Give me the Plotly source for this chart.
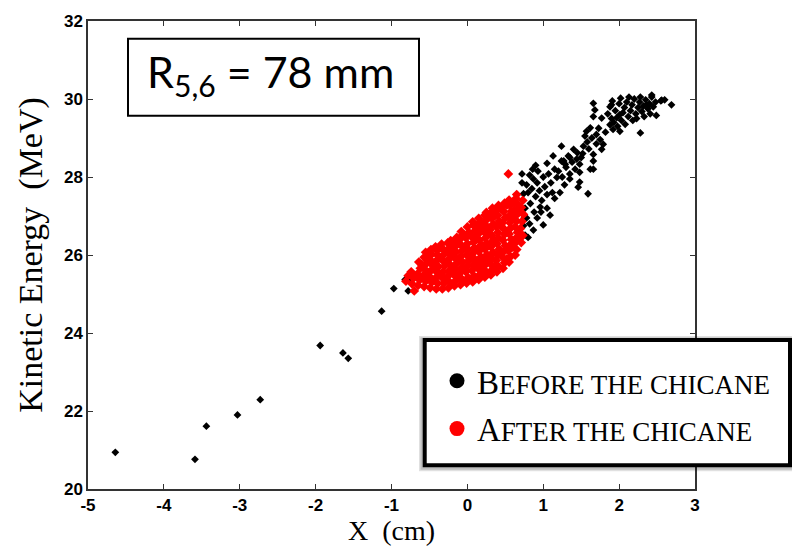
import plotly.graph_objects as go

# ---------------- data ----------------
before_pts = [
    (-4.64, 20.94), (-3.59, 20.76), (-3.44, 21.61), (-3.03, 21.90), (-2.73, 22.29),
    (-1.94, 23.68), (-1.64, 23.49), (-1.57, 23.35), (-1.13, 24.56),
    (-0.97, 25.14), (-0.82, 25.37), (-0.76, 25.37), (-0.78, 25.08),
    (0.72, 28.08), (0.87, 27.95), (1.07, 28.08), (1.18, 27.99), (1.35, 28.08), (1.46, 27.74),
    (1.48, 28.12), (1.62, 28.20), (1.24, 28.41), (1.35, 28.50), (1.13, 28.54), (1.09, 27.02),
    (1.00, 26.77), (0.87, 26.64), (0.76, 26.51), (0.96, 27.23), (0.83, 27.32), (0.74, 27.57),
    (0.78, 27.80), (0.80, 27.60), (0.85, 27.70), (0.90, 27.50), (0.92, 27.85), (0.95, 27.65),
    (0.98, 27.40), (1.02, 27.75), (1.05, 27.55), (1.10, 27.85), (1.12, 27.60), (1.15, 28.20),
    (1.20, 28.15), (1.25, 28.00), (1.28, 27.80), (1.00, 28.00), (0.93, 28.15), (0.82, 28.05),
    (0.76, 27.20), (0.78, 26.95), (0.82, 26.80), (0.88, 27.10), (0.92, 26.95), (0.74, 26.75),
    (0.80, 26.45), (1.05, 27.20), (0.97, 27.10), (1.15, 27.45), (1.22, 27.60), (1.30, 28.25),
    (1.42, 28.20), (0.72, 27.85), (0.90, 28.30), (1.05, 28.35), (0.86, 28.20), (0.75, 26.95),
    (1.66, 29.89), (1.68, 29.72), (1.66, 29.55), (1.77, 29.51), (1.62, 29.26), (1.57, 29.17),
    (1.70, 29.09), (1.64, 29.00), (1.75, 28.96), (1.79, 28.84), (1.53, 28.79), (1.40, 28.71),
    (1.33, 28.54), (1.27, 28.41), (1.44, 28.46), (1.48, 28.33), (1.66, 28.58), (1.66, 28.41),
    (1.66, 28.20), (1.77, 28.71), (1.88, 29.34), (1.92, 29.22), (2.01, 29.17), (2.28, 29.13),
    (1.90, 29.85), (1.24, 28.79), (1.29, 28.33), (1.35, 27.95), (1.59, 27.57), (1.48, 27.87),
    (1.52, 28.60), (1.58, 28.90), (1.45, 28.62), (1.38, 28.38), (1.60, 28.72), (1.70, 28.85),
    (1.55, 29.05), (1.50, 28.50), (1.73, 29.25), (1.82, 29.15),
    (1.85, 29.62), (1.88, 29.80), (1.91, 29.95), (1.95, 29.70), (1.97, 29.52), (2.00, 29.88),
    (2.02, 30.02), (2.05, 29.65), (2.07, 29.78), (2.10, 29.92), (2.12, 29.55), (2.15, 29.70),
    (2.17, 29.85), (2.20, 30.00), (2.22, 29.62), (2.25, 29.78), (2.27, 29.92), (2.30, 29.68),
    (2.32, 29.82), (2.35, 29.98), (2.38, 29.75), (2.40, 29.88), (2.43, 30.05), (2.45, 29.80),
    (2.48, 29.92), (1.93, 29.40), (2.03, 29.45), (2.18, 29.45), (2.08, 29.35), (1.98, 29.30),
    (2.13, 30.05), (2.28, 30.05), (2.33, 29.55), (2.23, 29.50), (1.90, 29.50), (2.55, 29.95),
    (2.60, 29.98), (2.41, 29.62), (2.36, 29.85), (2.01, 29.60), (2.69, 29.85), (2.56, 29.97),
    (2.43, 30.10), (2.49, 29.58),
]

after_pts = [
    (-0.81, 25.33), (-0.78, 25.47),
    (-0.73, 25.26), (-0.71, 25.41), (-0.74, 25.57),
    (-0.65, 25.22), (-0.63, 25.36), (-0.66, 25.51), (-0.62, 25.66), (-0.64, 25.82),
    (-0.57, 25.19), (-0.55, 25.33), (-0.58, 25.48), (-0.56, 25.63), (-0.54, 25.78), (-0.57, 25.94), (-0.55, 26.07),
    (-0.49, 25.16), (-0.47, 25.30), (-0.50, 25.45), (-0.48, 25.60), (-0.46, 25.74), (-0.49, 25.88), (-0.47, 26.02), (-0.48, 26.14),
    (-0.41, 25.13), (-0.39, 25.27), (-0.42, 25.41), (-0.40, 25.56), (-0.38, 25.70), (-0.41, 25.85), (-0.39, 25.99), (-0.40, 26.12), (-0.42, 26.21),
    (-0.33, 25.13), (-0.31, 25.28), (-0.34, 25.43), (-0.32, 25.57), (-0.30, 25.72), (-0.33, 25.87), (-0.31, 26.01), (-0.32, 26.15), (-0.34, 26.28),
    (-0.25, 25.16), (-0.23, 25.30), (-0.26, 25.45), (-0.24, 25.59), (-0.22, 25.74), (-0.25, 25.88), (-0.23, 26.03), (-0.24, 26.17), (-0.26, 26.31), (-0.22, 26.37),
    (-0.17, 25.21), (-0.15, 25.35), (-0.18, 25.50), (-0.16, 25.64), (-0.14, 25.79), (-0.17, 25.93), (-0.15, 26.08), (-0.16, 26.22), (-0.18, 26.35), (-0.14, 26.45),
    (-0.09, 25.24), (-0.07, 25.38), (-0.10, 25.53), (-0.08, 25.67), (-0.06, 25.82), (-0.09, 25.96), (-0.07, 26.11), (-0.08, 26.25), (-0.10, 26.40), (-0.06, 26.52), (-0.08, 26.60),
    (-0.01, 25.28), (0.01, 25.42), (-0.02, 25.57), (0.00, 25.71), (0.02, 25.86), (-0.01, 26.00), (0.01, 26.15), (0.00, 26.29), (-0.02, 26.44), (0.02, 26.58), (0.00, 26.72),
    (0.07, 25.31), (0.09, 25.46), (0.06, 25.60), (0.08, 25.75), (0.10, 25.89), (0.07, 26.04), (0.09, 26.18), (0.08, 26.33), (0.06, 26.47), (0.10, 26.62), (0.08, 26.76), (0.07, 26.85),
    (0.15, 25.37), (0.17, 25.51), (0.14, 25.66), (0.16, 25.80), (0.18, 25.95), (0.15, 26.09), (0.17, 26.24), (0.16, 26.38), (0.14, 26.53), (0.18, 26.67), (0.16, 26.82), (0.15, 26.94),
    (0.23, 25.43), (0.25, 25.57), (0.22, 25.72), (0.24, 25.86), (0.26, 26.01), (0.23, 26.15), (0.25, 26.30), (0.24, 26.44), (0.22, 26.59), (0.26, 26.73), (0.24, 26.88), (0.23, 27.02), (0.25, 27.09),
    (0.31, 25.49), (0.33, 25.63), (0.30, 25.78), (0.32, 25.92), (0.34, 26.07), (0.31, 26.21), (0.33, 26.36), (0.32, 26.50), (0.30, 26.65), (0.34, 26.79), (0.32, 26.94), (0.31, 27.08), (0.33, 27.20),
    (0.39, 25.57), (0.41, 25.71), (0.38, 25.86), (0.40, 26.00), (0.42, 26.15), (0.39, 26.29), (0.41, 26.44), (0.40, 26.58), (0.38, 26.73), (0.42, 26.87), (0.40, 27.02), (0.39, 27.16), (0.41, 27.27),
    (0.47, 25.66), (0.49, 25.80), (0.46, 25.95), (0.48, 26.09), (0.50, 26.24), (0.47, 26.38), (0.49, 26.53), (0.48, 26.67), (0.46, 26.82), (0.50, 26.96), (0.48, 27.11), (0.47, 27.25), (0.49, 27.33),
    (0.55, 25.82), (0.57, 25.96), (0.54, 26.11), (0.56, 26.25), (0.58, 26.40), (0.55, 26.54), (0.57, 26.69), (0.56, 26.83), (0.54, 26.98), (0.58, 27.12), (0.56, 27.27), (0.55, 27.41),
    (0.63, 26.00), (0.65, 26.14), (0.62, 26.29), (0.64, 26.43), (0.66, 26.58), (0.63, 26.72), (0.65, 26.87), (0.64, 27.01), (0.62, 27.16), (0.66, 27.30), (0.64, 27.45), (0.65, 27.55),
    (0.71, 26.32), (0.73, 26.50), (0.70, 26.68), (0.72, 26.86), (0.74, 27.04), (0.71, 27.22), (0.73, 27.40),
    (0.54, 28.08), (-0.70, 25.08),
    # interleaved points filling the dense core
    (-0.60, 25.42), (-0.52, 25.55), (-0.44, 25.35), (-0.44, 25.65), (-0.36, 25.50), (-0.36, 25.92),
    (-0.28, 25.36), (-0.28, 25.80), (-0.20, 25.55), (-0.20, 26.10), (-0.12, 25.42), (-0.12, 25.88),
    (-0.04, 25.63), (-0.04, 26.20), (0.04, 25.38), (0.04, 25.95), (0.12, 25.70), (0.12, 26.40),
    (0.20, 25.62), (0.20, 26.22), (0.28, 25.85), (0.28, 26.55), (0.36, 25.70), (0.36, 26.35),
    (0.44, 26.05), (0.44, 26.75), (0.52, 25.90), (0.52, 26.60), (0.60, 26.20), (0.60, 26.95),
    (0.68, 26.40), (0.68, 27.10), (0.04, 26.50), (0.20, 26.80), (0.36, 27.00), (-0.12, 26.30),
    (-0.52, 25.95), (-0.36, 26.18), (-0.20, 26.30), (-0.04, 26.50), (0.12, 26.72), (0.28, 26.98),
    (0.44, 27.20), (0.60, 27.35), (0.52, 27.28), (0.36, 27.14), (-0.60, 25.75), (-0.28, 26.10),
]

before_x = [p[0] for p in before_pts]
before_y = [p[1] for p in before_pts]
after_x = [p[0] for p in after_pts]
after_y = [p[1] for p in after_pts]

series_names = ["Before the chicane", "After the chicane"]
legend_labels = [
    "B<span style='font-size:27px'>EFORE THE CHICANE</span>",
    "A<span style='font-size:27px'>FTER THE CHICANE</span>",
]
x_range = [-5, 3]
y_range = [20, 32]
x_ticks = [-5, -4, -3, -2, -1, 0, 1, 2, 3]
x_tick_labels = ["-5", "-4", "-3", "-2", "-1", "0", "1", "2", "3"]
y_ticks = [20, 22, 24, 26, 28, 30, 32]
y_tick_labels = ["20", "22", "24", "26", "28", "30", "32"]
x_title = "X&nbsp;&nbsp;(cm)"
y_title = "Kinetic Energy&nbsp;&nbsp;(MeV)"
box_text = "R<sub>5,6</sub> = 78 mm"

# ---------------- figure ----------------
W, H = 792, 557
ML, MR, MT, MB = 88, 97, 15, 68
PW, PH = W - ML - MR, H - MT - MB


def px2paper_x(px):
    return (px - ML) / PW


def px2paper_y(py):
    return (H - MB - py) / PH


fig = go.Figure()

fig.add_trace(go.Scatter(
    x=before_x, y=before_y, mode="markers", name=series_names[0], showlegend=False,
    marker=dict(symbol="diamond", size=6, color="black", line=dict(width=0)),
))
fig.add_trace(go.Scatter(
    x=after_x, y=after_y, mode="markers", name=series_names[1], showlegend=False,
    marker=dict(symbol="diamond", size=7.5, color="#ff0000", line=dict(width=0)),
))
# legend entries (circle bullets as in the reference)
fig.add_trace(go.Scatter(
    x=[None], y=[None], mode="markers", name=legend_labels[0], legendgroup="a",
    marker=dict(symbol="circle", size=15, color="black"),
))
fig.add_trace(go.Scatter(
    x=[None], y=[None], mode="markers", name=legend_labels[1], legendgroup="b",
    marker=dict(symbol="circle", size=15, color="#ff0000"),
))

axis_common = dict(
    showgrid=False, zeroline=False, ticks="inside", ticklen=5, tickwidth=1,
    tickcolor="#333", showline=True, linecolor="#333", linewidth=1.5,
    mirror="allticks",
    tickfont=dict(family="Liberation Sans, Arial, sans-serif", size=17, color="black"),
)

fig.update_xaxes(range=x_range, tickmode="array", tickvals=x_ticks,
                 ticktext=["<b>%s</b>" % t for t in x_tick_labels],
                 title=dict(text=x_title, font=dict(family="Liberation Serif, Times New Roman, serif",
                                                    size=28, color="black"), standoff=6),
                 **axis_common)
fig.update_yaxes(range=y_range, tickmode="array", tickvals=y_ticks,
                 ticktext=["<b>%s</b>" % t for t in y_tick_labels],
                 title=dict(text=y_title, font=dict(family="Liberation Serif, Times New Roman, serif",
                                                    size=34, color="black"), standoff=11),
                 **axis_common)

shapes = [
    # R56 box
    dict(type="rect", xref="paper", yref="paper",
         x0=px2paper_x(128), x1=px2paper_x(419), y0=px2paper_y(111), y1=px2paper_y(33),
         line=dict(color="black", width=2), fillcolor="white", layer="above"),
    # legend shadow
    dict(type="rect", xref="paper", yref="paper",
         x0=px2paper_x(419), x1=px2paper_x(796), y0=px2paper_y(471), y1=px2paper_y(334),
         line=dict(width=0), fillcolor="rgba(0,0,0,0.12)", layer="above"),
    dict(type="rect", xref="paper", yref="paper",
         x0=px2paper_x(420.5), x1=px2paper_x(794), y0=px2paper_y(469.5), y1=px2paper_y(335.5),
         line=dict(width=0), fillcolor="rgba(0,0,0,0.15)", layer="above"),
    # legend box
    dict(type="rect", xref="paper", yref="paper",
         x0=px2paper_x(424.7), x1=px2paper_x(790), y0=px2paper_y(465), y1=px2paper_y(338),
         line=dict(color="black", width=4), fillcolor="white", layer="above"),
]

fig.update_layout(
    width=W, height=H,
    margin=dict(l=ML, r=MR, t=MT, b=MB, pad=0),
    paper_bgcolor="white", plot_bgcolor="white",
    shapes=shapes,
    annotations=[dict(
        text=box_text, xref="paper", yref="paper",
        x=px2paper_x(270), y=px2paper_y(69), xanchor="center", yanchor="middle",
        showarrow=False,
        font=dict(family="Lato, Open Sans, sans-serif", size=43, color="black"),
    )],
    legend=dict(
        x=px2paper_x(437), y=px2paper_y(351), xanchor="left", yanchor="top",
        bgcolor="rgba(0,0,0,0)", borderwidth=0,
        font=dict(family="Liberation Serif, Times New Roman, serif", size=33, color="black"),
        itemsizing="trace", tracegroupgap=2,
    ),
)

fig.write_html("out.html")
